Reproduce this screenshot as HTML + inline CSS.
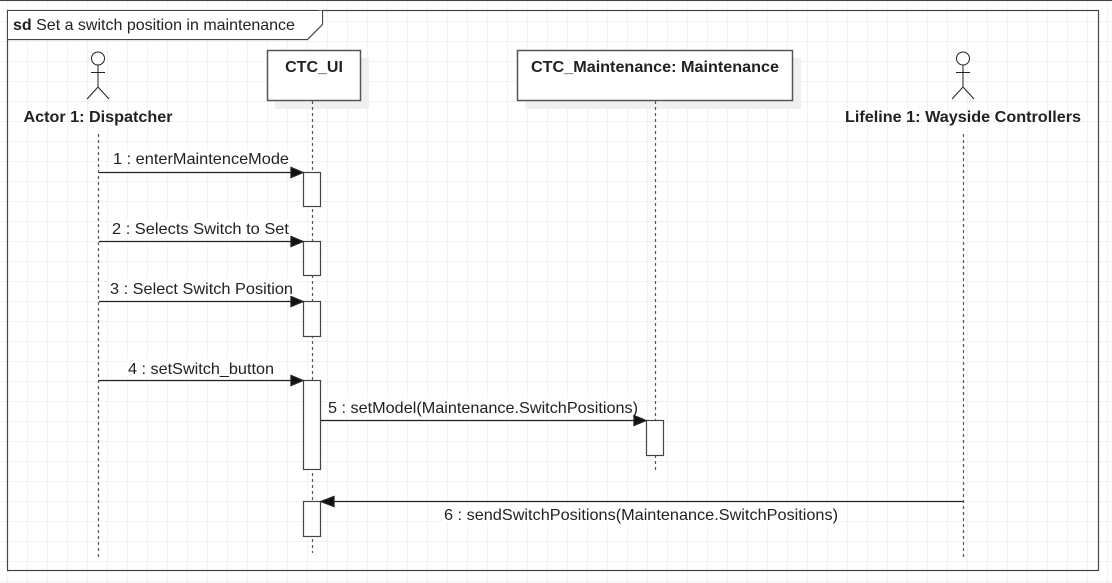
<!DOCTYPE html>
<html><head><meta charset="utf-8"><style>
html,body{margin:0;padding:0;background:#fff;}
svg{display:block;}
text{font-family:"Liberation Sans",Arial,sans-serif;fill:#222;}
</style></head><body>
<svg width="1112" height="583" viewBox="0 0 1112 583" xmlns="http://www.w3.org/2000/svg">
<defs>
<pattern id="g" x="7" y="1" width="20" height="20" patternUnits="userSpaceOnUse">
<path d="M0 0H20M0 0V20" stroke="#ebebeb" stroke-width="1.2" fill="none"/>
</pattern>
</defs>
<rect width="1112" height="583" fill="url(#g)"/>
<line x1="0" y1="0.5" x2="1112" y2="0.5" stroke="#444" stroke-width="1"/>
<!-- frame -->
<rect x="7.5" y="10.5" width="1091" height="560" fill="none" stroke="#444" stroke-width="1.2"/>
<path d="M7.5 39.5H307.5L322.5 24.5V10.5" fill="#fff" stroke="#444" stroke-width="1.2"/>
<rect x="8" y="11" width="299" height="28" fill="#fff"/>
<rect x="307" y="11" width="15" height="13" fill="#fff"/>
<text x="13" y="30" font-size="16"><tspan font-weight="bold">sd</tspan> Set a switch position in maintenance</text>

<!-- shadows -->
<rect x="275" y="58" width="94" height="51" fill="#f0f0f0"/>
<rect x="525" y="58" width="276" height="51" fill="#f0f0f0"/>
<!-- boxes -->
<rect x="267.5" y="50.5" width="93" height="50" fill="#fff" stroke="#555" stroke-width="1.5"/>
<text x="314" y="72" font-size="16" font-weight="bold" text-anchor="middle">CTC_UI</text>
<rect x="517.5" y="50.5" width="275" height="50" fill="#fff" stroke="#555" stroke-width="1.5"/>
<text x="655" y="72" font-size="16" font-weight="bold" text-anchor="middle" textLength="248" lengthAdjust="spacingAndGlyphs">CTC_Maintenance: Maintenance</text>

<!-- actors -->
<g stroke="#222" stroke-width="1" fill="#fff">
<circle cx="98" cy="58.5" r="6.5"/>
<line x1="98" y1="65" x2="98" y2="87"/><line x1="91" y1="72.5" x2="105" y2="72.5"/>
<polyline points="87,99 98,87 109,99" fill="none"/>
<circle cx="963" cy="58.5" r="6.5"/>
<line x1="963" y1="65" x2="963" y2="87"/><line x1="956" y1="72.5" x2="970" y2="72.5"/>
<polyline points="952,99 963,87 974,99" fill="none"/>
</g>
<text x="98" y="122" font-size="16" font-weight="bold" text-anchor="middle" textLength="149" lengthAdjust="spacingAndGlyphs">Actor 1: Dispatcher</text>
<text x="963" y="122" font-size="16" font-weight="bold" text-anchor="middle" textLength="236" lengthAdjust="spacingAndGlyphs">Lifeline 1: Wayside Controllers</text>

<!-- lifelines -->
<g stroke="#555" stroke-width="1.2" stroke-dasharray="3,3">
<line x1="98.5" y1="134" x2="98.5" y2="557"/>
<line x1="312.5" y1="101" x2="312.5" y2="553"/>
<line x1="655.5" y1="101" x2="655.5" y2="473"/>
<line x1="963.5" y1="134" x2="963.5" y2="557"/>
</g>

<!-- activations -->
<g fill="#fff" stroke="#444" stroke-width="1.2">
<rect x="303.5" y="172.5" width="17" height="34"/>
<rect x="303.5" y="241.5" width="17" height="34"/>
<rect x="303.5" y="301.5" width="17" height="35"/>
<rect x="303.5" y="380.5" width="17" height="89"/>
<rect x="303.5" y="501.5" width="17" height="35"/>
<rect x="646.5" y="420.5" width="17" height="35"/>
</g>

<!-- messages -->
<g stroke="#222" stroke-width="1.3" fill="#111">
<line x1="99" y1="172.5" x2="292" y2="172.5"/><polygon points="291,167.5 303,172.5 291,177.5"/>
<line x1="99" y1="241.5" x2="292" y2="241.5"/><polygon points="291,236.5 303,241.5 291,246.5"/>
<line x1="99" y1="301.5" x2="292" y2="301.5"/><polygon points="291,296.5 303,301.5 291,306.5"/>
<line x1="99" y1="380.5" x2="292" y2="380.5"/><polygon points="291,375.5 303,380.5 291,385.5"/>
<line x1="321" y1="420.5" x2="635" y2="420.5"/><polygon points="634,415.5 646,420.5 634,425.5"/>
<line x1="333" y1="501.5" x2="963" y2="501.5"/><polygon points="334,496.5 321,501.5 334,506.5"/>
</g>
<g font-size="16">
<rect x="113" y="150" width="176" height="17" fill="#fff"/>
<text x="113" y="164" textLength="176" lengthAdjust="spacingAndGlyphs">1 : enterMaintenceMode</text>
<rect x="112" y="219" width="178" height="17" fill="#fff"/>
<text x="112" y="234" textLength="177" lengthAdjust="spacingAndGlyphs">2 : Selects Switch to Set</text>
<rect x="109" y="279" width="185" height="17" fill="#fff"/>
<text x="110" y="294" textLength="183" lengthAdjust="spacingAndGlyphs">3 : Select Switch Position</text>
<rect x="127" y="359" width="148" height="17" fill="#fff"/>
<text x="128" y="374" textLength="146" lengthAdjust="spacingAndGlyphs">4 : setSwitch_button</text>
<rect x="327" y="398" width="312" height="17" fill="#fff"/>
<text x="328" y="413" textLength="310" lengthAdjust="spacingAndGlyphs">5 : setModel(Maintenance.SwitchPositions)</text>
<rect x="443" y="505" width="396" height="17" fill="#fff"/>
<text x="444" y="520" textLength="394" lengthAdjust="spacingAndGlyphs">6 : sendSwitchPositions(Maintenance.SwitchPositions)</text>
</g>
</svg>
</body></html>
